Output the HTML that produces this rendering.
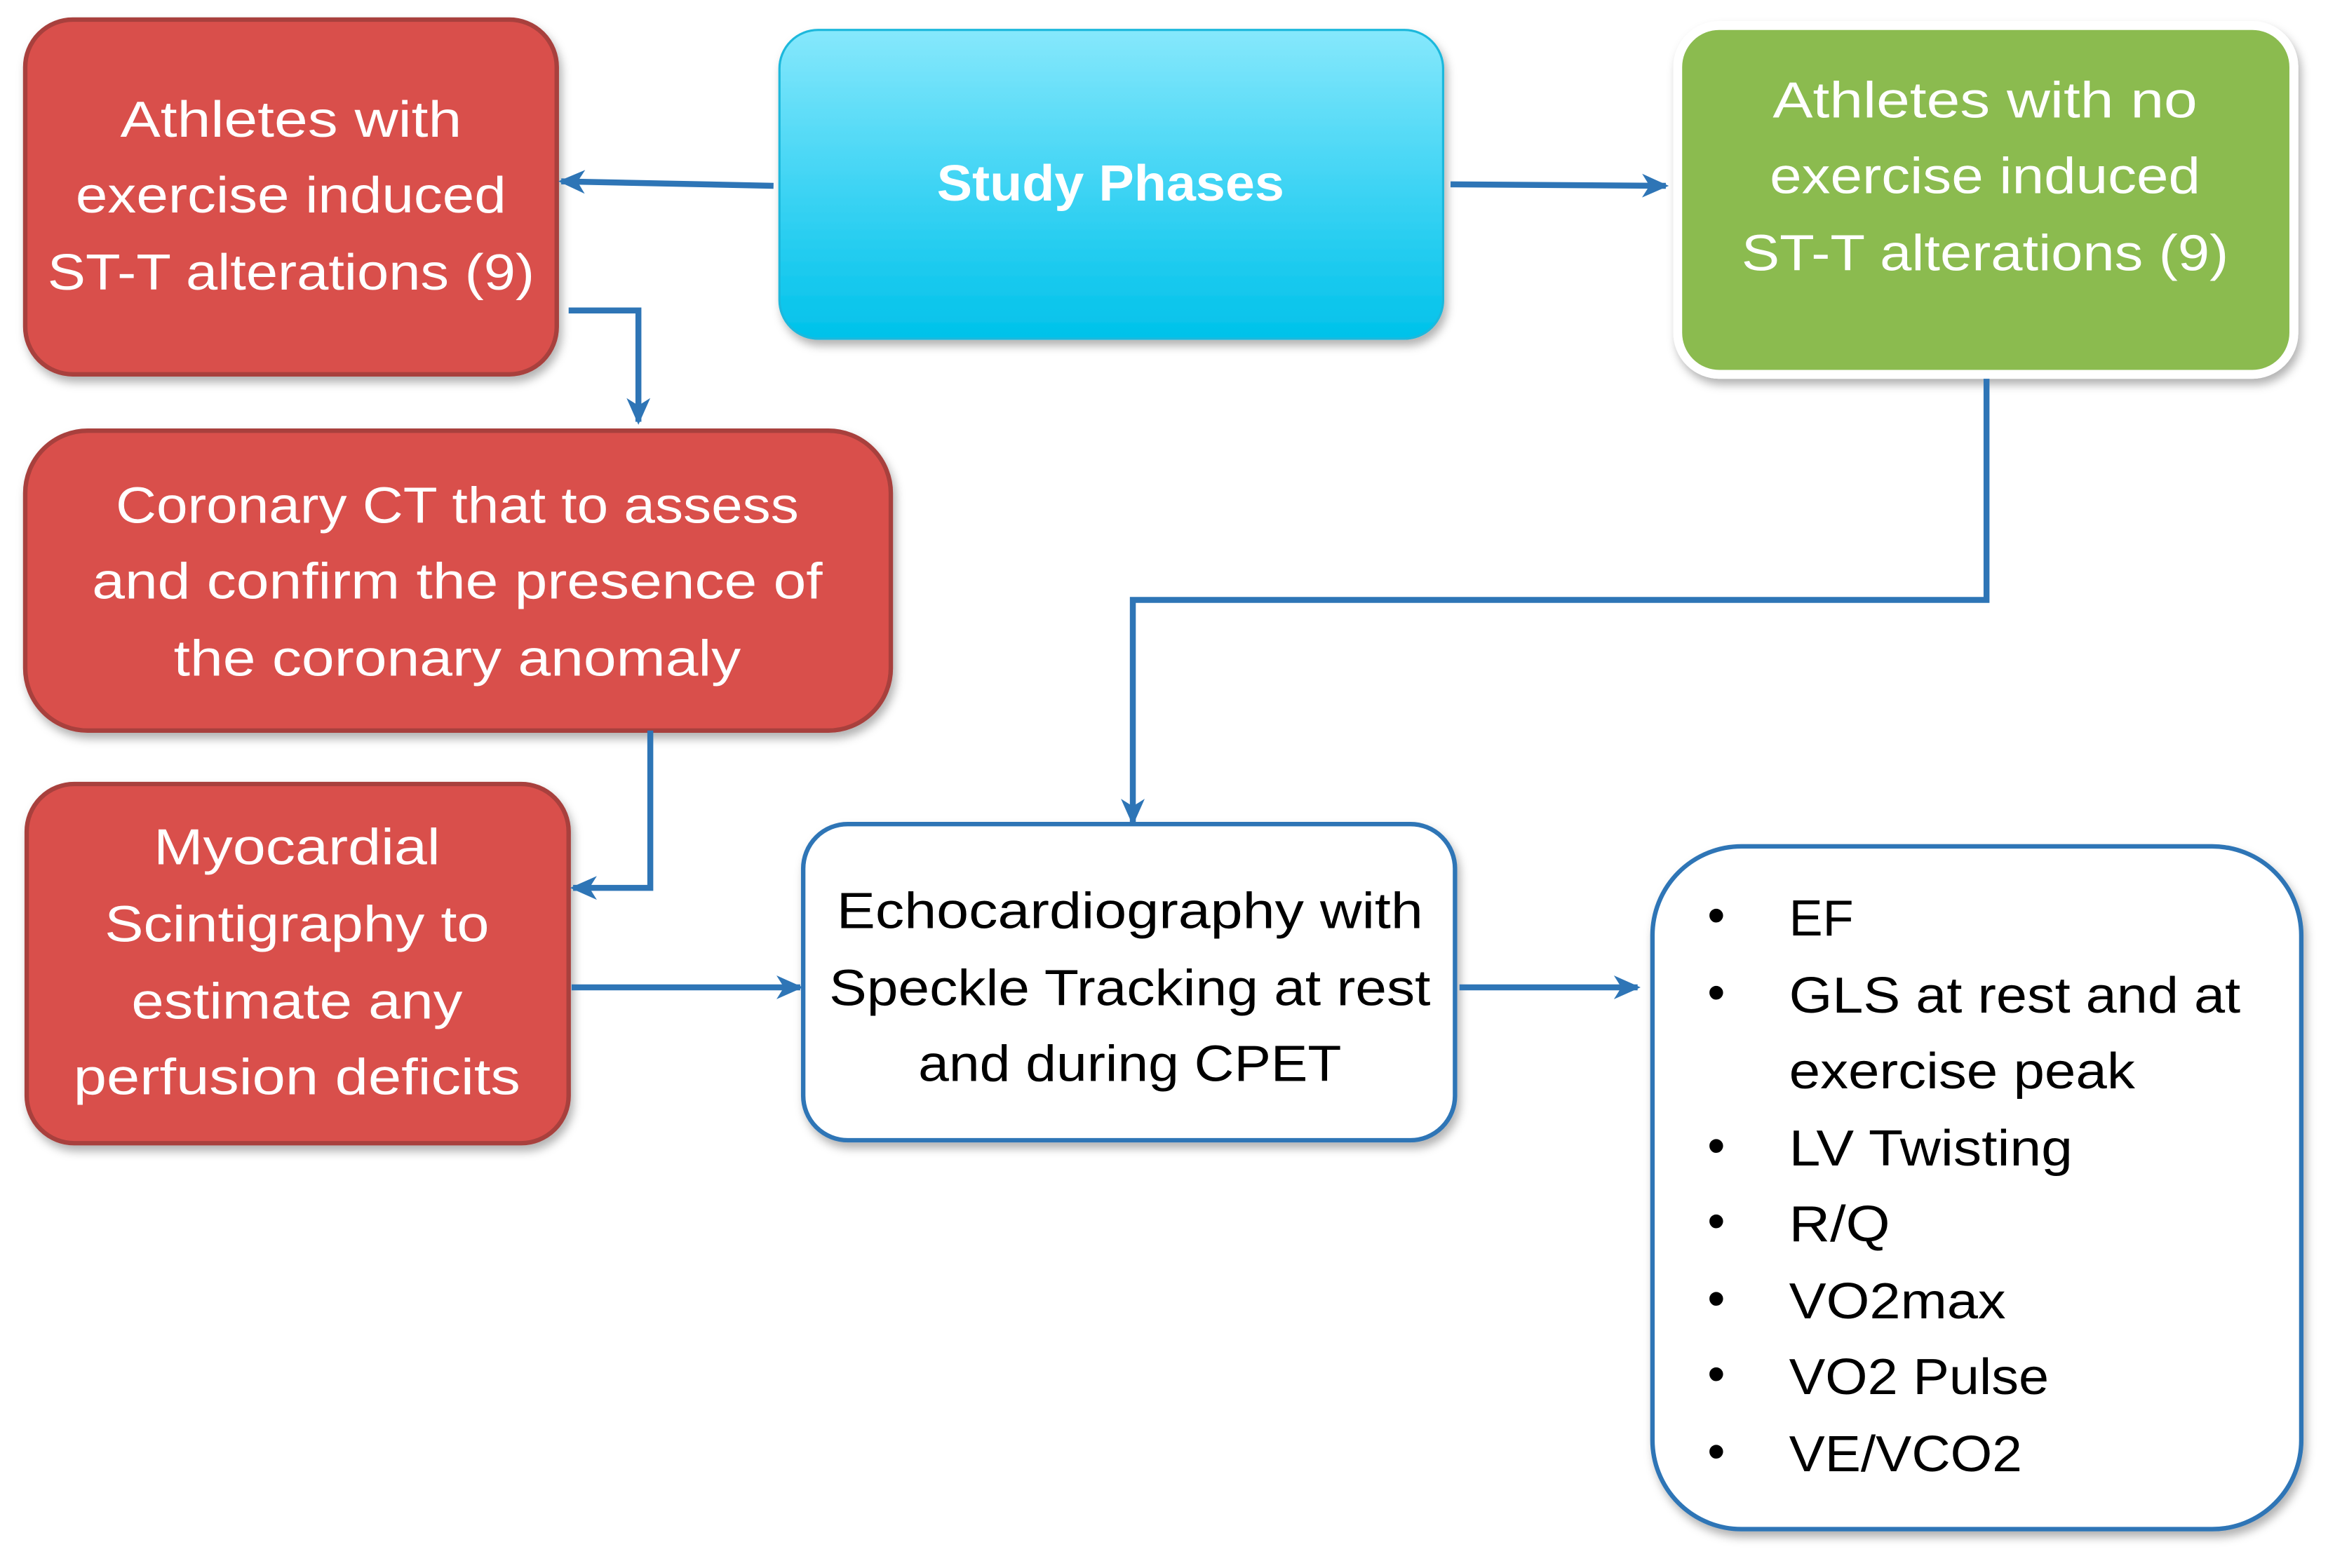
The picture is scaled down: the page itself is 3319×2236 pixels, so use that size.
<!DOCTYPE html>
<html><head><meta charset="utf-8"><style>
html,body{margin:0;padding:0;background:#fff;}
svg{display:block;}
text{font-family:"Liberation Sans",sans-serif;}
</style></head><body>
<svg width="3319" height="2236" viewBox="0 0 1568 1056" xmlns="http://www.w3.org/2000/svg">
<defs>
<linearGradient id="cy" x1="0" y1="0" x2="0" y2="1">
<stop offset="0" stop-color="#86e8fc"/><stop offset="0.5" stop-color="#3fd4f4"/><stop offset="1" stop-color="#00c2ea"/>
</linearGradient>
<filter id="sh" x="-10%" y="-10%" width="120%" height="125%"><feDropShadow dx="2" dy="4" stdDeviation="3" flood-color="#000" flood-opacity="0.3"/></filter>
<marker id="ar" markerWidth="20" markerHeight="20" refX="16" refY="10" orient="auto" markerUnits="userSpaceOnUse"><path d="M0,2 L18,10 L0,18 L5,10 Z" fill="#2e75b6"/></marker>
</defs>

<rect x="17" y="13" width="358" height="239" rx="32" fill="#d9504c" stroke="#a8403c" stroke-width="3" filter="url(#sh)"/>
<rect x="525" y="20" width="447" height="208" rx="26" fill="url(#cy)" stroke="#1cb8dc" stroke-width="1.5" filter="url(#sh)"/>
<rect x="1130" y="17" width="415" height="235" rx="28" fill="#8bbb4f" stroke="#fff" stroke-width="6" filter="url(#sh)"/>
<rect x="17" y="290" width="583" height="202" rx="42" fill="#d9504c" stroke="#a8403c" stroke-width="3" filter="url(#sh)"/>
<rect x="18" y="528" width="365" height="242" rx="32" fill="#d9504c" stroke="#a8403c" stroke-width="3" filter="url(#sh)"/>
<rect x="541" y="555" width="439" height="213" rx="30" fill="#fff" stroke="#2e75b6" stroke-width="3" filter="url(#sh)"/>
<rect x="1113" y="570" width="437" height="460" rx="60" fill="#fff" stroke="#2e75b6" stroke-width="3" filter="url(#sh)"/>

<g fill="none" stroke="#2e75b6" stroke-width="4">
<line x1="521" y1="125" x2="378" y2="122" marker-end="url(#ar)"/>
<line x1="977" y1="124" x2="1122" y2="125" marker-end="url(#ar)"/>
<polyline points="383,209 430,209 430,284" marker-end="url(#ar)"/>
<polyline points="438,492 438,598 386,598" marker-end="url(#ar)"/>
<line x1="385" y1="665" x2="539" y2="665" marker-end="url(#ar)"/>
<polyline points="1338,255 1338,404 763,404 763,554" marker-end="url(#ar)"/>
<line x1="983" y1="665" x2="1103" y2="665" marker-end="url(#ar)"/>
</g>

<g fill="#fff" font-size="34" text-anchor="middle">
<text x="196" y="92" textLength="230" lengthAdjust="spacingAndGlyphs">Athletes with</text>
<text x="196" y="143" textLength="290" lengthAdjust="spacingAndGlyphs">exercise induced</text>
<text x="196" y="195" textLength="328" lengthAdjust="spacingAndGlyphs">ST-T alterations (9)</text>

<text x="748" y="135" font-weight="bold" textLength="234" lengthAdjust="spacingAndGlyphs">Study Phases</text>

<text x="1337" y="79" textLength="286" lengthAdjust="spacingAndGlyphs">Athletes with no</text>
<text x="1337" y="130" textLength="290" lengthAdjust="spacingAndGlyphs">exercise induced</text>
<text x="1337" y="182" textLength="328" lengthAdjust="spacingAndGlyphs">ST-T alterations (9)</text>

<text x="308" y="352" textLength="460" lengthAdjust="spacingAndGlyphs">Coronary CT that to assess</text>
<text x="308" y="403" textLength="492" lengthAdjust="spacingAndGlyphs">and confirm the presence of</text>
<text x="308" y="455" textLength="382" lengthAdjust="spacingAndGlyphs">the coronary anomaly</text>

<text x="200" y="582" textLength="193" lengthAdjust="spacingAndGlyphs">Myocardial</text>
<text x="200" y="634" textLength="259" lengthAdjust="spacingAndGlyphs">Scintigraphy to</text>
<text x="200" y="686" textLength="223" lengthAdjust="spacingAndGlyphs">estimate any</text>
<text x="200" y="737" textLength="301" lengthAdjust="spacingAndGlyphs">perfusion deficits</text>
</g>

<g fill="#000" font-size="34" text-anchor="middle">
<text x="761" y="625" textLength="395" lengthAdjust="spacingAndGlyphs">Echocardiography with</text>
<text x="761" y="677" textLength="405" lengthAdjust="spacingAndGlyphs">Speckle Tracking at rest</text>
<text x="761" y="728" textLength="285" lengthAdjust="spacingAndGlyphs">and during CPET</text>
</g>

<g fill="#000" font-size="34">
<text x="1150" y="628">•</text><text x="1205" y="630">EF</text>
<text x="1150" y="680">•</text><text x="1205" y="682" textLength="304" lengthAdjust="spacingAndGlyphs">GLS at rest and at</text>
<text x="1205" y="733" textLength="233" lengthAdjust="spacingAndGlyphs">exercise peak</text>
<text x="1150" y="783">•</text><text x="1205" y="785" textLength="191" lengthAdjust="spacingAndGlyphs">LV Twisting</text>
<text x="1150" y="834">•</text><text x="1205" y="836" textLength="68" lengthAdjust="spacingAndGlyphs">R/Q</text>
<text x="1150" y="886">•</text><text x="1205" y="888" textLength="146" lengthAdjust="spacingAndGlyphs">VO2max</text>
<text x="1150" y="937">•</text><text x="1205" y="939" textLength="175" lengthAdjust="spacingAndGlyphs">VO2 Pulse</text>
<text x="1150" y="989">•</text><text x="1205" y="991" textLength="157" lengthAdjust="spacingAndGlyphs">VE/VCO2</text>
</g>
</svg>
</body></html>
